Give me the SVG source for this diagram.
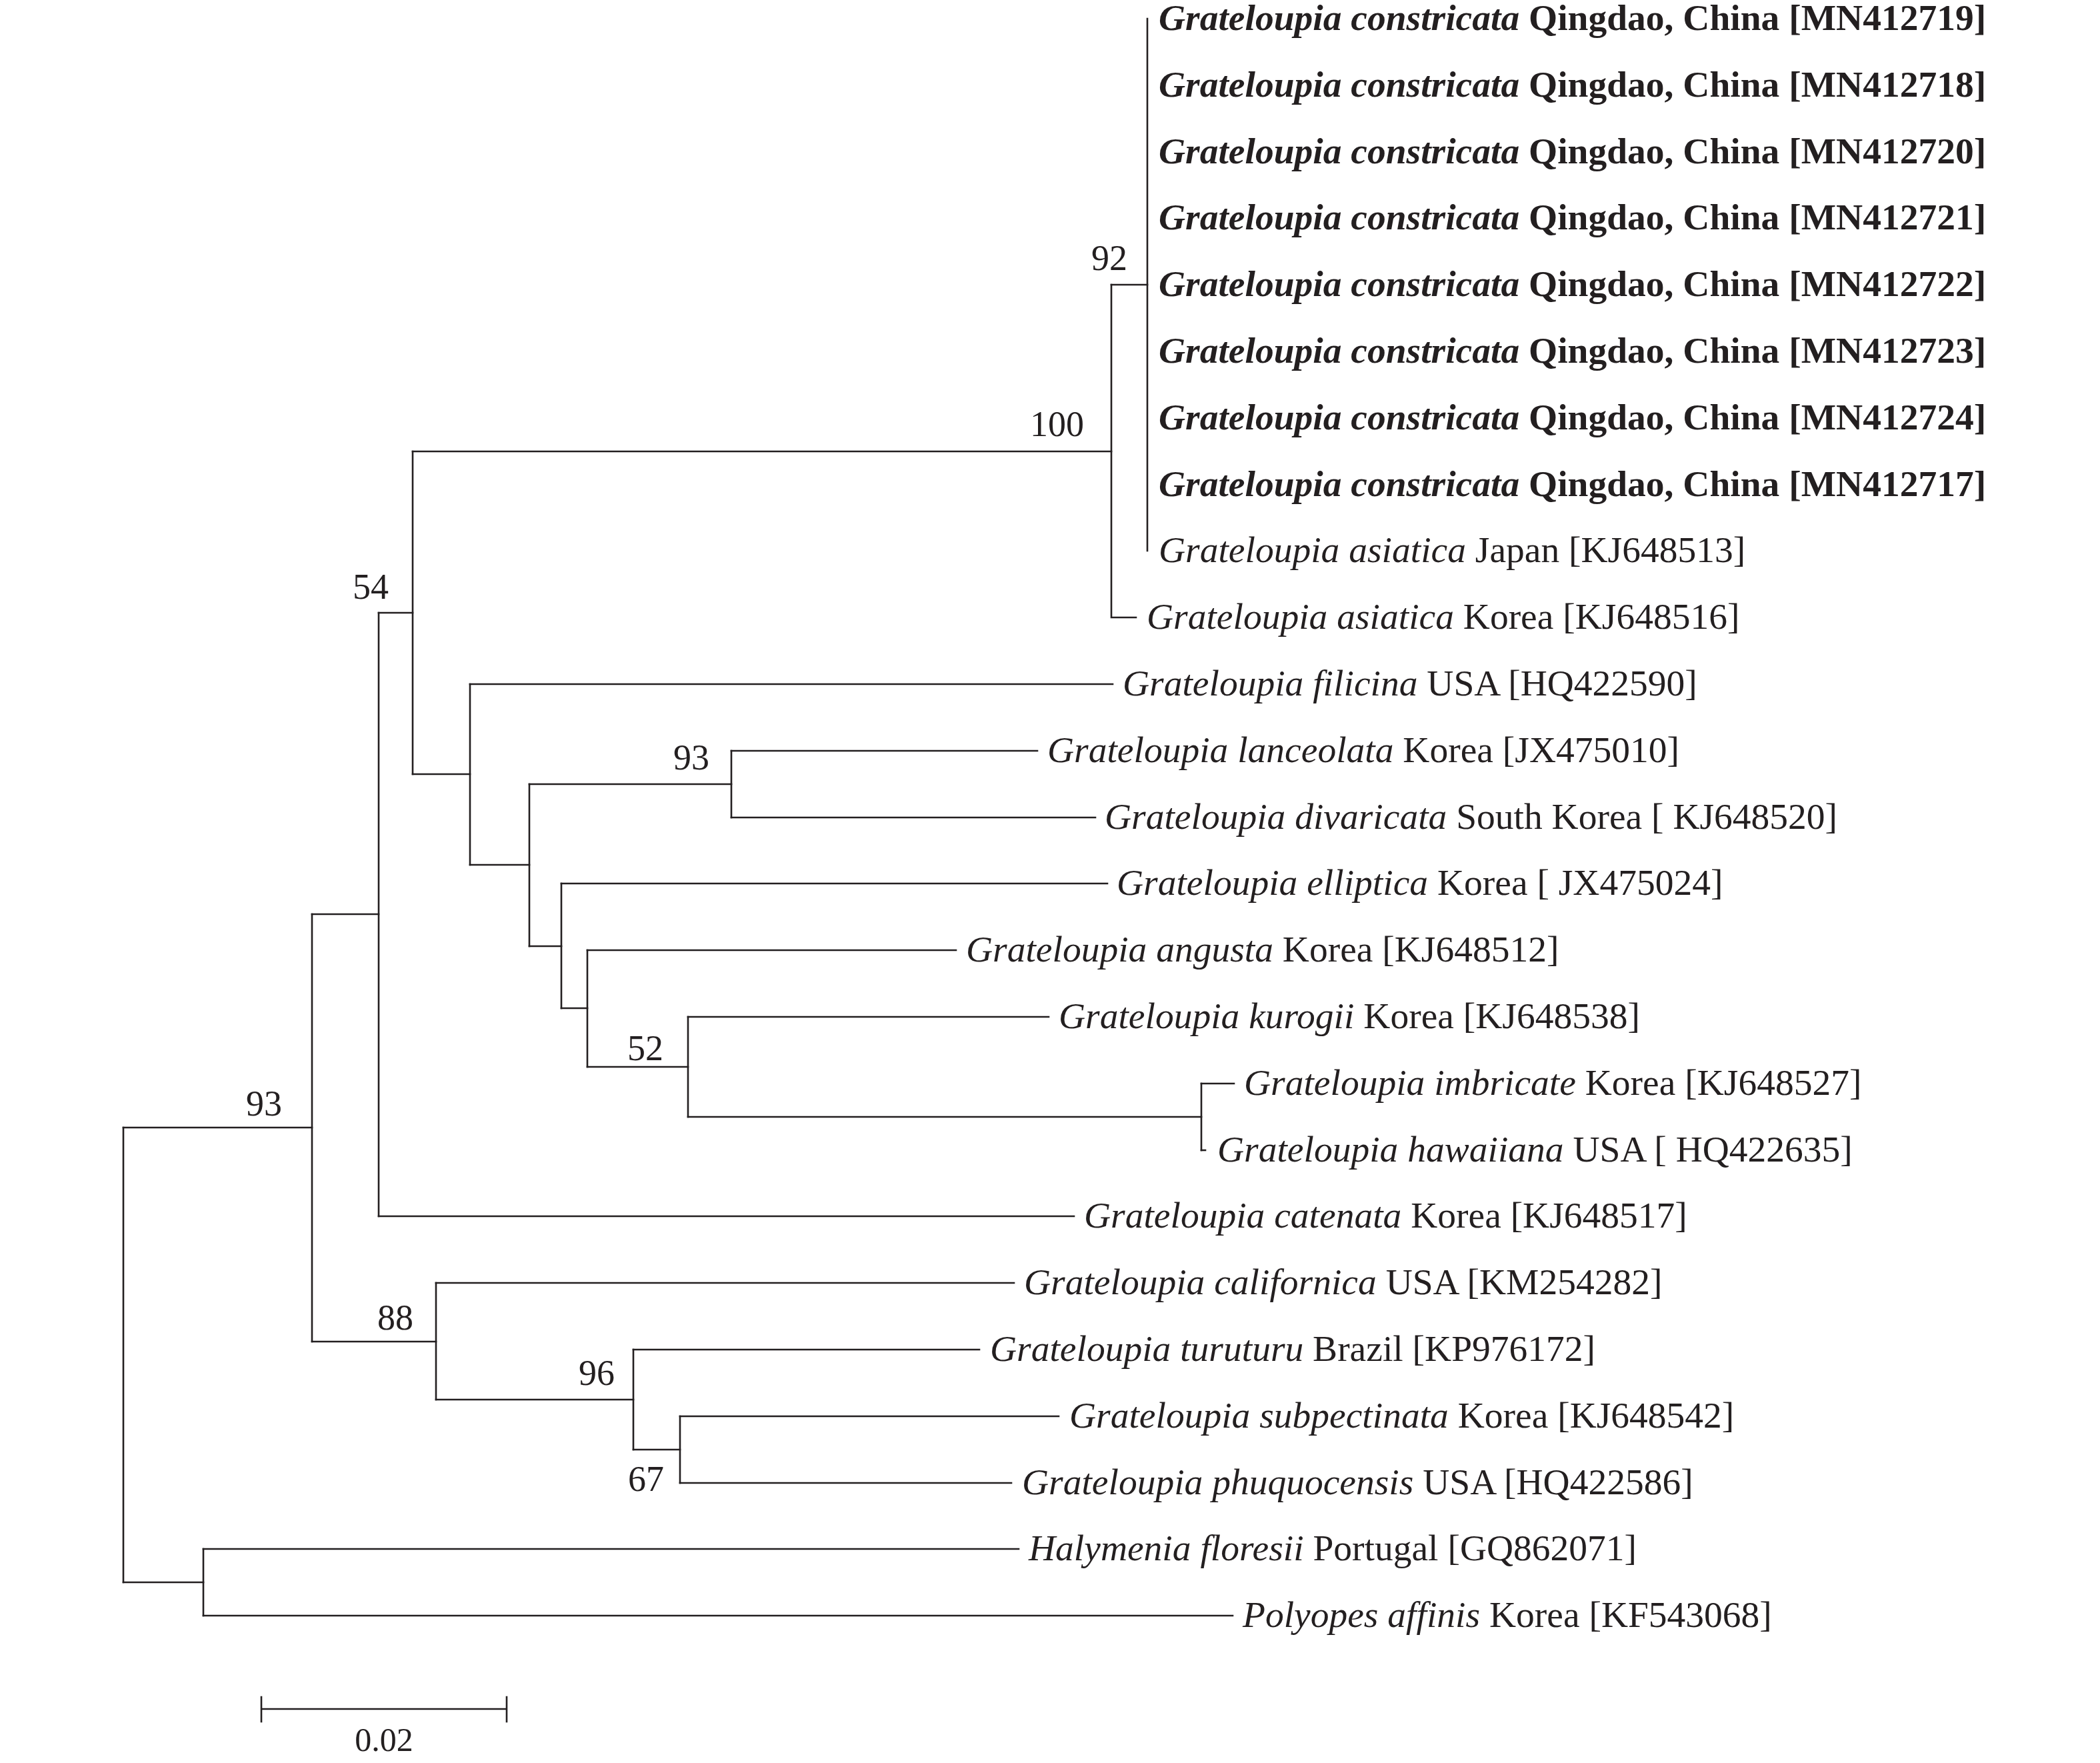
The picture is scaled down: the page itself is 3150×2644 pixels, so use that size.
<svg xmlns="http://www.w3.org/2000/svg" width="3150" height="2644" viewBox="0 0 3150 2644">
<style>
.br{stroke:#231f20;stroke-width:2.6;fill:none;stroke-linecap:square}
.lb{font-family:"Liberation Serif","Times New Roman",serif;font-size:55.5px;fill:#231f20}
.bs{font-family:"Liberation Serif","Times New Roman",serif;font-size:54px;fill:#231f20}
.b{font-weight:bold}
.i{font-style:italic}
</style>
<rect width="3150" height="2644" fill="#ffffff"/>
<g id="connectors" class="br">
<path d="M1721 28V826"/>
<path d="M1667 427H1721"/>
<path d="M1667 427V926H1704"/>
<path d="M619 677H1667"/>
<path d="M619 677V1161"/>
<path d="M568 919H619"/>
<path d="M619 1161H705"/>
<path d="M705 1026V1297"/>
<path d="M705 1026H1669"/>
<path d="M705 1297H794"/>
<path d="M794 1176V1419"/>
<path d="M794 1176H1097"/>
<path d="M1097 1126V1226"/>
<path d="M1097 1126H1556"/>
<path d="M1097 1226H1643"/>
<path d="M794 1419H842"/>
<path d="M842 1325V1512"/>
<path d="M842 1325H1661"/>
<path d="M842 1512H881"/>
<path d="M881 1425V1600"/>
<path d="M881 1425H1434"/>
<path d="M881 1600H1032"/>
<path d="M1032 1525V1675"/>
<path d="M1032 1525H1573"/>
<path d="M1032 1675H1802"/>
<path d="M1802 1625V1725"/>
<path d="M1802 1625H1851"/>
<path d="M1802 1725H1808"/>
<path d="M568 919V1824"/>
<path d="M568 1824H1611"/>
<path d="M468 1371H568"/>
<path d="M468 1371V2012"/>
<path d="M468 2012H654"/>
<path d="M654 1924V2099"/>
<path d="M654 1924H1521"/>
<path d="M654 2099H950"/>
<path d="M950 2024V2174"/>
<path d="M950 2024H1469"/>
<path d="M950 2174H1020"/>
<path d="M1020 2124V2224"/>
<path d="M1020 2124H1588"/>
<path d="M1020 2224H1517"/>
<path d="M185 1691H468"/>
<path d="M185 1691V2373"/>
<path d="M185 2373H305"/>
<path d="M305 2323V2423"/>
<path d="M305 2323H1528"/>
<path d="M305 2423H1849"/>
</g>
<g id="leaves" class="lb">
<g id="leaf-MN412719"><text x="1738" y="45" class="b"><tspan class="i">Grateloupia constricata</tspan> Qingdao, China [MN412719]</text></g>
<g id="leaf-MN412718"><text x="1738" y="145" class="b"><tspan class="i">Grateloupia constricata</tspan> Qingdao, China [MN412718]</text></g>
<g id="leaf-MN412720"><text x="1738" y="245" class="b"><tspan class="i">Grateloupia constricata</tspan> Qingdao, China [MN412720]</text></g>
<g id="leaf-MN412721"><text x="1738" y="344" class="b"><tspan class="i">Grateloupia constricata</tspan> Qingdao, China [MN412721]</text></g>
<g id="leaf-MN412722"><text x="1738" y="444" class="b"><tspan class="i">Grateloupia constricata</tspan> Qingdao, China [MN412722]</text></g>
<g id="leaf-MN412723"><text x="1738" y="544" class="b"><tspan class="i">Grateloupia constricata</tspan> Qingdao, China [MN412723]</text></g>
<g id="leaf-MN412724"><text x="1738" y="644" class="b"><tspan class="i">Grateloupia constricata</tspan> Qingdao, China [MN412724]</text></g>
<g id="leaf-MN412717"><text x="1738" y="744" class="b"><tspan class="i">Grateloupia constricata</tspan> Qingdao, China [MN412717]</text></g>
<g id="leaf-KJ648513"><text x="1738" y="843"><tspan class="i">Grateloupia asiatica</tspan> Japan [KJ648513]</text></g>
<g id="leaf-KJ648516"><text x="1720" y="943"><tspan class="i">Grateloupia asiatica</tspan> Korea [KJ648516]</text></g>
<g id="leaf-HQ422590"><text x="1684" y="1043"><tspan class="i">Grateloupia filicina</tspan> USA [HQ422590]</text></g>
<g id="leaf-JX475010"><text x="1571" y="1143"><tspan class="i">Grateloupia lanceolata</tspan> Korea [JX475010]</text></g>
<g id="leaf-KJ648520"><text x="1657" y="1243"><tspan class="i">Grateloupia divaricata</tspan> South Korea [ KJ648520]</text></g>
<g id="leaf-JX475024"><text x="1675" y="1342"><tspan class="i">Grateloupia elliptica</tspan> Korea [ JX475024]</text></g>
<g id="leaf-KJ648512"><text x="1449" y="1442"><tspan class="i">Grateloupia angusta</tspan> Korea [KJ648512]</text></g>
<g id="leaf-KJ648538"><text x="1588" y="1542"><tspan class="i">Grateloupia kurogii</tspan> Korea [KJ648538]</text></g>
<g id="leaf-KJ648527"><text x="1866" y="1642"><tspan class="i">Grateloupia imbricate</tspan> Korea [KJ648527]</text></g>
<g id="leaf-HQ422635"><text x="1826" y="1742"><tspan class="i">Grateloupia hawaiiana</tspan> USA [ HQ422635]</text></g>
<g id="leaf-KJ648517"><text x="1626" y="1841"><tspan class="i">Grateloupia catenata</tspan> Korea [KJ648517]</text></g>
<g id="leaf-KM254282"><text x="1536" y="1941"><tspan class="i">Grateloupia californica</tspan> USA [KM254282]</text></g>
<g id="leaf-KP976172"><text x="1485" y="2041"><tspan class="i">Grateloupia turuturu</tspan> Brazil [KP976172]</text></g>
<g id="leaf-KJ648542"><text x="1604" y="2141"><tspan class="i">Grateloupia subpectinata</tspan> Korea [KJ648542]</text></g>
<g id="leaf-HQ422586"><text x="1533" y="2241"><tspan class="i">Grateloupia phuquocensis</tspan> USA [HQ422586]</text></g>
<g id="leaf-GQ862071"><text x="1543" y="2340"><tspan class="i">Halymenia floresii</tspan> Portugal [GQ862071]</text></g>
<g id="leaf-KF543068"><text x="1864" y="2440"><tspan class="i">Polyopes affinis</tspan> Korea [KF543068]</text></g>
</g>
<g id="bootstraps" class="bs">
<g id="node-92"><text x="1637" y="405">92</text></g>
<g id="node-100"><text x="1545" y="654">100</text></g>
<g id="node-54"><text x="529" y="898">54</text></g>
<g id="node-93a"><text x="1010" y="1154">93</text></g>
<g id="node-52"><text x="941" y="1590">52</text></g>
<g id="node-93b"><text x="369" y="1673">93</text></g>
<g id="node-88"><text x="566" y="1994">88</text></g>
<g id="node-96"><text x="868" y="2077">96</text></g>
<g id="node-67"><text x="942" y="2236">67</text></g>
</g>
<g id="scale-bar">
<path class="br" d="M392 2563H760M392 2545V2582M760 2545V2582"/>
<text x="576" y="2626" text-anchor="middle" style="font-family:'Liberation Serif','Times New Roman',serif;font-size:50px;fill:#231f20">0.02</text>
</g>
</svg>
